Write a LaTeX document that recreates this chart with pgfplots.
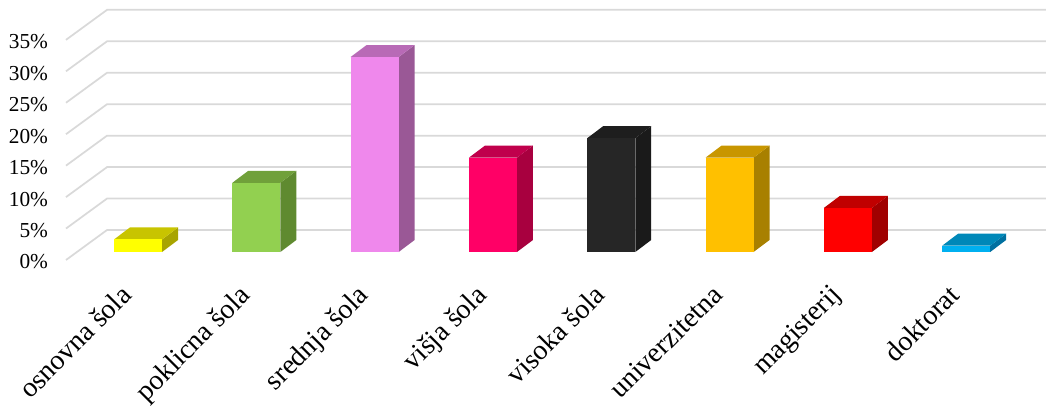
\documentclass[border=0pt]{standalone}
\usepackage{pgfplots}
\pgfplotsset{compat=1.18}
\usepackage{fontspec}
\setmainfont{Liberation Serif}
\definecolor{gridc}{HTML}{D9D9D9}
\definecolor{yF}{HTML}{FFFF00}\definecolor{yT}{HTML}{C8C400}\definecolor{yS}{HTML}{A8A400}
\definecolor{gF}{HTML}{92D050}\definecolor{gT}{HTML}{70A03A}\definecolor{gS}{HTML}{5F8A30}
\definecolor{pF}{HTML}{EF88EC}\definecolor{pT}{HTML}{B86AB6}\definecolor{pS}{HTML}{9A5896}
\definecolor{mF}{HTML}{FF0066}\definecolor{mT}{HTML}{C0004C}\definecolor{mS}{HTML}{A8003F}
\definecolor{kF}{HTML}{262626}\definecolor{kT}{HTML}{1E1E1E}\definecolor{kS}{HTML}{1A1A1A}
\definecolor{oF}{HTML}{FFC000}\definecolor{oT}{HTML}{C89600}\definecolor{oS}{HTML}{A88000}
\definecolor{rF}{HTML}{FF0000}\definecolor{rT}{HTML}{C00000}\definecolor{rS}{HTML}{A00000}
\definecolor{bF}{HTML}{00B0F0}\definecolor{bT}{HTML}{0088B8}\definecolor{bS}{HTML}{0070A0}
% bar: #1 x centre, #2 value, #3 prefix colour
\newcommand{\threedbar}[3]{%
  \pgfmathsetmacro{\xa}{#1-0.203}\pgfmathsetmacro{\xb}{#1+0.203}%
  \pgfmathsetmacro{\xc}{#1-0.068}\pgfmathsetmacro{\xd}{#1+0.338}%
  \pgfmathsetmacro{\ya}{1.27}\pgfmathsetmacro{\yb}{#2+1.27}%
  \pgfmathsetmacro{\yc}{3.18}\pgfmathsetmacro{\yd}{#2+3.18}%
  \edef\tmp{\noexpand\addplot[fill=#3S, draw=none] coordinates {(\xb,\ya) (\xd,\yc) (\xd,\yd) (\xb,\yb)} --cycle;
  \noexpand\addplot[fill=#3T, draw=none] coordinates {(\xa,\yb) (\xb,\yb) (\xd,\yd) (\xc,\yd)} --cycle;
  \noexpand\addplot[fill=#3F, draw=none] coordinates {(\xa,\ya) (\xb,\ya) (\xb,\yb) (\xa,\yb)} --cycle;}%
  \tmp}
\begin{document}
\begin{tikzpicture}
\useasboundingbox (0,0) rectangle (784.5pt,309.75pt);
\begin{axis}[
  at={(49.5pt,114.75pt)}, anchor=south west,
  scale only axis, width=735pt, height=188.7pt,
  xmin=-0.609, xmax=7.675, ymin=0, ymax=40,
  clip=false,
  axis line style={draw=none}, tick style={draw=none},
  xtick={0,...,7},
  xticklabels={osnovna šola, poklicna šola, srednja šola, višja šola, visoka šola, univerzitetna, magisterij, doktorat},
  xticklabel style={xshift=-14pt, yshift=-12.5pt, rotate=45, anchor=north east, font=\fontsize{21}{24}\selectfont},
  ytick={0,5,10,15,20,25,30,35},
  yticklabels={0\%,5\%,10\%,15\%,20\%,25\%,30\%,35\%},
  yticklabel style={font=\fontsize{16}{19}\selectfont, xshift=-10pt, yshift=-1.5pt},
]
\addplot[gridc, line width=1.3pt] coordinates {(-0.609,0) (-0.262,4.77) (7.675,4.77)};
\addplot[gridc, line width=1.3pt] coordinates {(-0.609,5) (-0.262,9.77) (7.675,9.77)};
\addplot[gridc, line width=1.3pt] coordinates {(-0.609,10) (-0.262,14.77) (7.675,14.77)};
\addplot[gridc, line width=1.3pt] coordinates {(-0.609,15) (-0.262,19.77) (7.675,19.77)};
\addplot[gridc, line width=1.3pt] coordinates {(-0.609,20) (-0.262,24.77) (7.675,24.77)};
\addplot[gridc, line width=1.3pt] coordinates {(-0.609,25) (-0.262,29.77) (7.675,29.77)};
\addplot[gridc, line width=1.3pt] coordinates {(-0.609,30) (-0.262,34.77) (7.675,34.77)};
\addplot[gridc, line width=1.3pt] coordinates {(-0.609,35) (-0.262,39.77) (7.675,39.77)};
\threedbar{0}{2}{y}
\threedbar{1}{11}{g}
\threedbar{2}{31}{p}
\threedbar{3}{15}{m}
\threedbar{4}{18.1}{k}
\threedbar{5}{15}{o}
\threedbar{6}{7}{r}
\threedbar{7}{1}{b}
\end{axis}
\end{tikzpicture}
\end{document}
